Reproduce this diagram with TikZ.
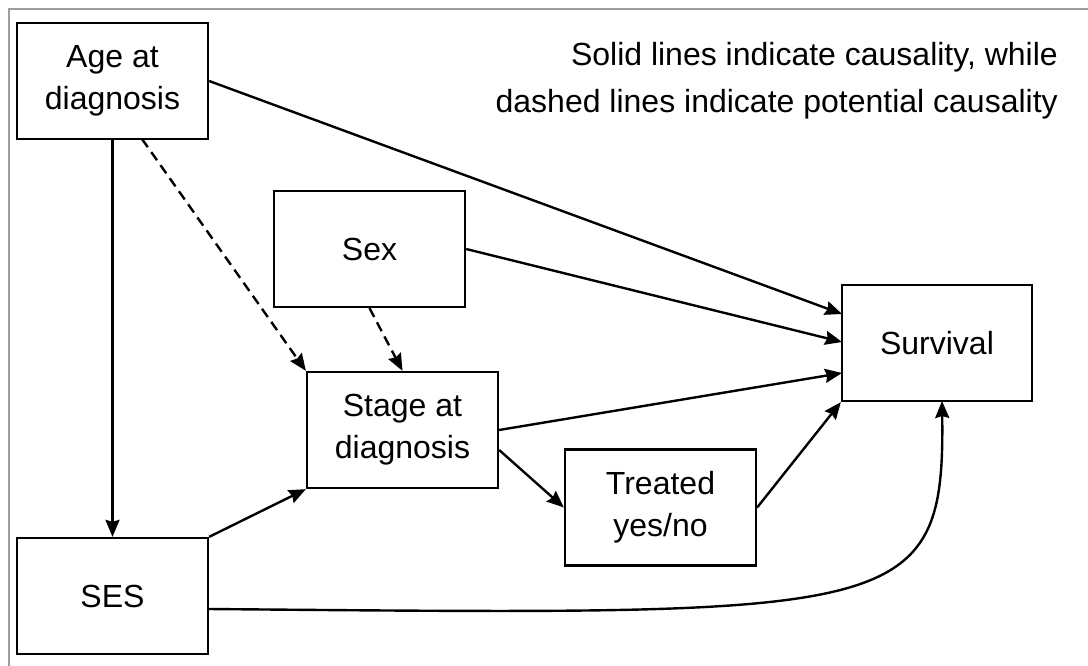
\documentclass[tikz,border=0pt]{standalone}
\usepackage{fontspec}
\setmainfont{Liberation Sans}
\usetikzlibrary{arrows.meta}
\begin{document}
\begin{tikzpicture}[x=1pt,y=-1pt,
  box/.style={draw=black, line width=2.3pt, minimum width=191pt, minimum height=116pt,
    align=center, inner sep=0pt, font=\fontsize{32}{42}\selectfont},
  arr/.style={line width=2.4pt, -{Stealth[length=17pt,width=14pt,inset=2pt]}},
  dsh/.style={arr, dash pattern=on 10pt off 6pt},
  frame/.style={draw=black!38, line width=1.5pt}]
\useasboundingbox (0,0) rectangle (1088,666);
\fill[white] (0,0) rectangle (1088,666);
\draw[frame] (9,666) -- (9,9) -- (1088,9);

\node[box] (age) at (112.5,81) {Age at\\diagnosis};
\node[box] (sex) at (369.5,249) {Sex};
\node[box] (stage) at (402.5,430) {Stage at\\diagnosis};
\node[box] (treated) at (660.5,507.5) {Treated\\yes/no};
\node[box] (ses) at (112.5,596) {SES};
\node[box, minimum width=190pt] (surv) at (937,343) {Survival};

\node[anchor=base east, align=right, inner sep=0pt, font=\fontsize{32}{47}\selectfont] (legend) at (1058,113)
  {Solid lines indicate causality, while\\dashed lines indicate potential causality};

\coordinate (s1) at (842,314);
\coordinate (s2) at (842,342);
\coordinate (s3) at (842,373);
\coordinate (agedash) at (142,139);
\coordinate (sesout) at (208,609);
\coordinate (survin) at (942,401);

\draw[arr] (age.east) -- (s1);
\draw[arr] (sex.east) -- (s2);
\draw[arr] (stage.east) -- (s3);
\draw[arr] ([yshift=-20pt]stage.east) -- (treated.west);
\draw[arr] (treated.east) -- (surv.south west);
\draw[arr] (age.south) -- (ses.north);
\draw[dsh] (agedash) -- (stage.north west);
\draw[dsh] (sex.south) -- (stage.north);
\draw[arr] (ses.north east) -- (stage.south west);
\draw[arr] (sesout) .. controls (900,615) and (945,620) .. (survin);
\end{tikzpicture}
\end{document}
